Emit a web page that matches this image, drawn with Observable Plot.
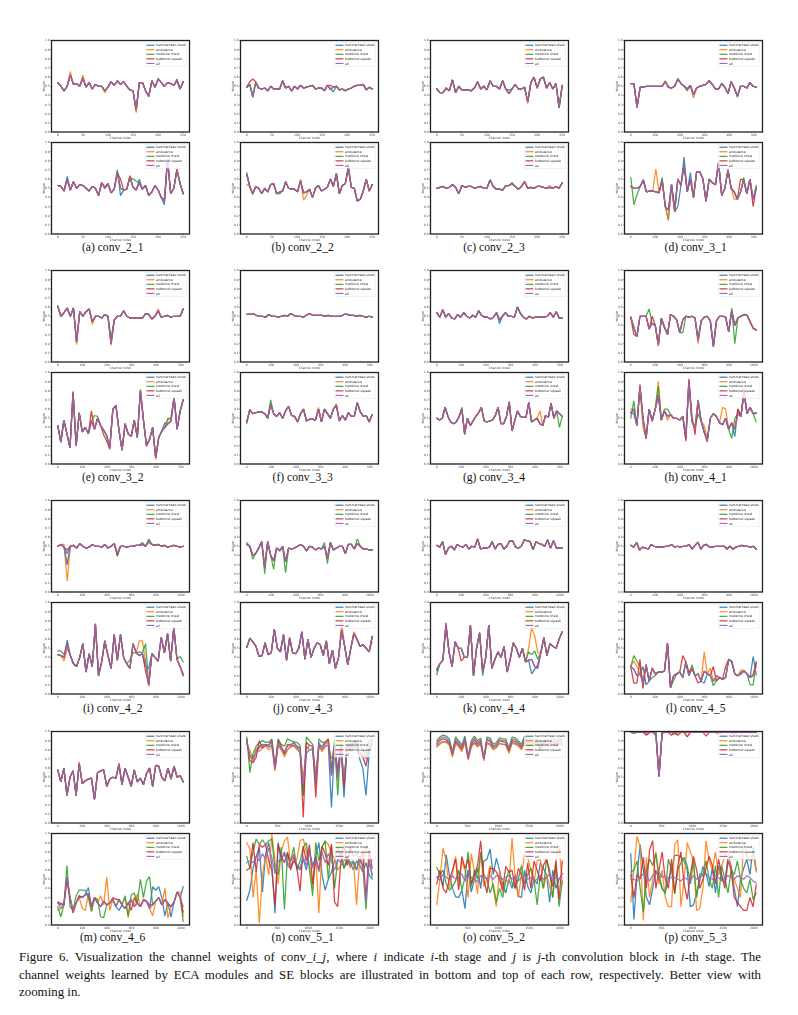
<!DOCTYPE html>
<html><head><meta charset="utf-8">
<script src="https://cdn.jsdelivr.net/npm/d3@7"></script>
<script src="https://cdn.jsdelivr.net/npm/@observablehq/plot@0.6"></script>
<style>
html,body{margin:0;padding:0;background:#fff}
#page{position:relative;width:798px;height:1015px;overflow:hidden;background:#fff}
#page svg{position:absolute;background:transparent;overflow:visible;filter:blur(.35px);text-rendering:geometricPrecision}
.sub{position:absolute;font:11.6px "Liberation Serif",serif;color:#111;transform:translateX(-50%);white-space:nowrap;line-height:13px}
.cap{position:absolute;left:19px;width:742px;font:12.9px "Liberation Serif",serif;color:#111;line-height:14px;white-space:nowrap}
.cap.j{text-align:justify;text-align-last:justify;white-space:normal}
</style></head><body><div id="page"></div>
<script>
const seriesNames=["hammerhead shark","ambulance","medicine chest","butternut squash","all"];
const seriesColors=["#1f77b4","#ff7f0e","#2ca02c","#d62728","#9467bd"];
const yTicks=[0,.1,.2,.3,.4,.5,.6,.7,.8,.9,1];

const a1_all=[54,50,45,50,62,52,53,50,59,49,54,47,52,50,50,45,49,55,51,56,52,55,50,46,45,24,54,54,45,39,56,49,58,54,50,54,53,51,56,47,55];
const a1_dev=[[1,4,66],[1,8,62],[1,15,43],[1,25,21],[0,38,58]];
const a2_all=[53,52,47,60,48,57,50,54,53,50,47,52,50,42,56,50,55,45,49,67,50,48,49,62,51,48,56,49,53,42,46,53,48,40,36,82,44,50,70,55,44];
const a2_dev=[[0,3,63],[0,19,70],[0,20,42],[0,26,60],[0,34,32],[3,38,71],[3,23,63],[3,20,60],[2,24,60],[2,25,58],[2,33,40],[2,34,38],[1,23,64],[1,15,52]];
const b1_all=[49,52,38,54,48,47,48,45,50,47,47,47,56,48,50,45,50,47,51,48,49,50,51,47,48,48,45,51,47,49,50,46,47,45,47,48,50,51,51,52,46,49,47];
const b1_dev=[[3,1,55],[3,2,58],[3,3,55],[1,2,42],[1,27,51],[1,28,46],[0,29,44],[3,28,51],[0,40,46]];
const b2_all=[65,52,44,52,50,44,50,46,54,55,44,46,47,57,50,49,49,46,58,45,46,49,40,50,53,47,49,51,60,52,66,44,53,55,72,51,50,36,38,47,60,47,54];
const b2_dev=[[1,0,54],[1,19,37],[1,18,60],[1,20,42],[0,0,67],[2,2,43],[2,11,44],[0,34,75]];
const c1_all=[47,43,43,48,45,57,43,50,46,46,46,45,48,55,47,50,46,56,50,50,47,56,47,42,47,52,47,47,49,33,54,60,48,58,60,48,54,47,53,27,51];
const c1_dev=[[1,29,31],[2,39,26],[0,23,46]];
const c2_all=[50,51,52,50,51,54,51,44,53,51,52,52,50,51,52,50,50,59,52,49,49,48,53,53,55,52,49,52,57,50,51,50,52,52,51,50,51,50,52,50,56];
const c2_dev=[[2,24,56],[1,28,58],[1,36,53]];
const d1_all=[53,53,27,49,49,50,50,50,50,50,50,55,49,48,50,58,53,50,47,51,41,48,50,51,52,56,52,47,47,53,49,42,55,48,39,50,50,48,54,50,49];
const d1_dev=[[1,20,37],[2,18,45],[1,11,56],[1,34,38]];
const d2_all=[52,50,50,52,59,46,47,47,46,45,59,30,26,54,24,60,53,76,46,60,40,68,68,60,36,60,56,54,78,42,50,70,50,46,38,46,59,44,60,38,50];
const d2_dev=[[0,12,15],[0,17,84],[0,19,67],[0,15,30],[0,40,53],[1,8,71],[1,12,16],[1,33,38],[2,1,32],[2,2,43],[2,0,62],[2,10,62],[2,14,30],[2,36,62],[3,39,30],[3,35,60]];
const e1_all=[61,50,54,59,50,59,22,55,50,55,58,44,50,50,48,52,50,20,46,50,50,56,50,48,48,48,48,48,53,52,47,50,56,49,50,51,49,50,50,50,58];
const e1_dev=[[1,6,19],[1,11,41],[1,17,18],[2,17,26],[1,32,58]];
const e2_all=[42,24,48,33,18,78,20,56,35,40,33,47,38,50,42,37,31,18,60,64,37,15,44,33,30,48,29,80,48,20,27,40,7,29,36,40,44,47,73,38,58,70];
const e2_dev=[[1,5,80],[1,27,82],[1,29,19],[1,32,5],[1,36,48],[1,37,50],[3,11,58],[3,15,32],[3,16,25],[3,17,16],[2,12,53],[2,13,52],[2,36,50],[2,37,50],[0,35,45]];
const f1_all=[52,52,53,51,50,50,49,52,50,50,49,50,51,50,53,51,50,50,49,51,53,51,51,51,51,50,51,50,50,50,50,52,52,51,51,50,51,50,49,50,49];
const f1_dev=[];
const f2_all=[46,59,55,56,57,57,55,50,65,55,52,56,50,58,63,53,52,46,55,60,47,49,49,48,60,46,60,55,50,60,64,47,53,48,56,52,52,67,57,52,53,46,54];
const f2_dev=[[2,8,70],[2,1,60],[2,0,44],[1,24,62],[1,30,66]];
const g1_all=[54,49,57,49,53,48,47,52,49,54,50,48,51,49,56,51,49,49,47,49,54,46,50,54,50,50,49,60,53,49,47,50,48,49,49,49,49,50,54,49,55,48,48];
const g1_dev=[[0,21,42]];
const g2_all=[50,48,50,62,52,46,44,46,52,60,33,50,42,47,52,56,62,47,46,47,48,53,62,44,44,52,68,36,48,58,52,51,51,67,46,48,50,44,42,53,51,66,50,58,55,52];
const g2_dev=[[2,9,62],[3,10,32],[2,44,40],[1,27,36],[1,41,67],[1,37,58]];
const h1_all=[49,38,28,50,50,50,36,42,40,19,48,38,30,52,50,46,32,46,50,49,50,48,24,45,49,50,45,17,45,50,50,49,33,56,40,48,50,52,51,44,37,35];
const h1_dev=[[3,1,30],[1,9,17],[1,22,20],[2,33,59],[2,34,20],[2,17,32],[2,14,50],[2,6,58],[3,7,50]];
const h2_all=[56,60,42,84,50,28,60,47,60,75,48,58,52,54,50,50,48,52,30,90,46,40,70,47,35,26,50,55,52,45,43,50,38,45,38,55,52,78,55,62,55,56];
const h2_dev=[[1,0,60],[1,9,90],[1,4,40],[1,24,42],[1,30,62],[1,31,60],[1,25,28],[1,18,28],[1,12,48],[2,0,50],[2,1,69],[2,18,28],[2,9,85],[2,11,60],[2,12,60],[2,22,55],[2,33,28],[2,41,46],[2,34,50],[3,3,87],[3,19,93],[3,18,25],[3,22,68],[3,25,24],[3,35,60],[3,37,82],[3,20,52],[3,21,32],[0,1,55],[0,34,30],[0,35,60],[0,41,55]];
const i1_all=[50,52,49,30,50,51,48,53,50,48,49,52,50,50,49,52,48,50,53,42,50,50,49,50,50,51,51,52,50,55,52,51,52,50,51,49,50,51,50,49,50];
const i1_dev=[[1,3,12],[1,2,52],[0,3,42],[3,3,46],[3,19,40],[2,27,54],[2,29,58],[2,19,39]];
const i2_all=[43,42,40,55,42,33,30,40,55,24,44,30,76,20,35,58,42,28,65,37,65,40,33,28,55,45,42,44,35,10,44,40,36,62,45,66,36,73,38,30,20];
const i2_dev=[[0,3,59],[0,29,28],[0,28,30],[0,40,22],[2,0,47],[2,1,47],[2,2,43],[2,26,46],[2,27,45],[2,28,55],[2,40,35],[2,23,37],[2,24,45],[2,39,41],[1,27,58],[1,26,58],[1,2,36],[1,29,8],[1,3,50],[3,12,77],[3,28,25]];
const j1_all=[52,50,40,42,48,55,27,55,40,34,48,45,50,33,48,47,48,50,52,50,45,50,49,46,48,47,50,37,54,46,48,50,50,42,52,52,47,53,50,47,47,46,46];
const j1_dev=[[2,2,36],[2,6,20],[2,7,55],[2,9,25],[2,13,21],[2,0,54],[2,27,31],[2,26,54],[2,37,58]];
const j2_all=[51,61,57,52,41,42,56,43,45,71,50,46,65,37,61,45,44,50,68,38,60,40,50,56,54,42,58,33,48,28,40,70,52,32,50,66,60,52,54,50,46,63];
const j2_dev=[[1,31,78],[1,35,68],[1,41,57],[3,14,62],[3,33,32],[2,29,28],[2,27,34]];
const k1_all=[51,49,55,41,48,50,46,52,50,49,52,47,50,49,58,47,48,48,49,55,47,52,53,47,50,56,56,49,48,50,57,56,55,46,55,53,52,50,57,48,56,48,48,48];
const k1_dev=[];
const k2_all=[27,33,37,75,46,30,57,50,50,40,40,75,20,50,67,24,40,75,28,38,46,40,52,24,38,56,50,40,50,35,37,38,30,28,45,62,42,55,52,50,60,68];
const k2_dev=[[1,31,72],[1,32,64],[1,33,45],[1,30,50],[0,31,22],[0,32,27],[0,33,32],[0,0,25],[2,30,46],[2,31,43],[2,32,47],[2,33,38],[2,12,20],[2,0,21],[2,15,20],[3,3,78],[3,8,36]];
const l1_all=[51,49,54,46,49,48,47,52,50,49,49,49,50,50,52,49,50,49,50,50,52,47,51,54,47,51,52,49,49,50,50,50,50,47,50,47,49,50,51,50,50,49,50,47];
const l1_dev=[[1,23,55],[1,3,45],[1,35,46]];
const l2_all=[30,27,20,22,12,32,14,28,22,24,24,25,55,7,20,22,24,18,35,20,28,20,22,14,25,22,20,14,20,18,16,18,38,35,22,20,22,25,22,18,20,30];
const l2_dev=[[2,0,30],[2,1,42],[2,2,36],[2,3,30],[2,7,18],[2,8,20],[2,14,15],[2,20,32],[2,27,9],[2,28,15],[2,33,36],[2,39,10],[2,40,10],[2,41,35],[1,1,36],[1,2,30],[1,24,46],[1,26,28],[1,36,26],[1,37,26],[1,7,29],[1,40,22],[1,41,35],[3,1,12],[3,2,12],[3,3,38],[3,4,6],[3,12,56],[3,17,42],[3,19,24],[3,22,12],[3,27,30],[3,28,14],[3,31,30],[3,41,34],[0,4,30],[0,5,10],[0,24,12],[0,40,41],[0,41,21],[0,36,24]];
const m1_all=[58,45,60,30,50,57,30,65,43,46,48,49,26,55,57,58,40,48,50,49,64,42,60,50,40,58,45,49,42,54,60,40,63,62,50,46,60,48,62,50,52,45];
const m1_dev=[[1,7,67],[1,12,25],[1,20,66]];
const m2_all=[24,18,22,52,30,16,24,30,30,33,34,20,30,24,20,26,22,24,28,20,28,22,18,24,28,20,24,20,28,26,18,22,26,30,22,28,24,20,25,36,30,20];
const m2_dev=[[2,0,20],[2,1,9],[2,3,65],[2,4,20],[2,6,32],[2,7,38],[2,8,38],[2,9,38],[2,10,30],[2,11,15],[2,13,28],[2,14,9],[2,15,8],[2,22,32],[2,23,10],[2,24,33],[2,25,35],[2,27,50],[2,28,30],[2,29,48],[2,30,53],[2,31,22],[2,41,4],[1,0,16],[1,3,46],[1,8,18],[1,9,16],[1,11,15],[1,14,32],[1,15,22],[1,16,52],[1,17,16],[1,22,30],[1,23,8],[1,26,34],[1,28,26],[1,31,10],[1,35,40],[1,36,8],[1,40,36],[1,41,10],[0,1,22],[0,7,32],[0,10,41],[0,20,16],[0,31,42],[0,32,38],[0,33,42],[0,34,30],[0,35,10],[0,37,9],[0,40,30],[0,41,42],[3,0,25],[3,1,24],[3,5,13],[3,7,32],[3,18,30],[3,19,28],[3,24,16],[3,25,30],[3,30,22],[3,41,14]];

const n1_ham=[88,74,72,78,84,86,85,83,85,58,85,80,75,80,84,85,82,76,30,76,80,80,42,85,80,84,85,17,84,58,85,28,84,80,82,84,70,60,30,75,88];
const n1_amb=[85,80,68,82,78,82,84,80,84,57,86,80,72,80,83,84,80,78,48,84,80,82,55,84,78,83,86,70,80,46,88,46,82,78,84,82,72,75,70,82,85];
const n1_med=[94,55,76,84,88,90,88,88,92,62,92,86,84,92,90,89,88,85,30,94,90,86,45,92,88,88,90,60,90,30,86,40,86,86,88,90,85,80,72,90,92];
const n1_red=[92,68,66,72,90,82,86,85,90,60,90,84,76,86,85,88,84,82,6,88,85,84,28,85,84,88,92,52,85,55,86,39,85,84,86,88,78,72,62,80,90];
const n1_all=[90,72,70,76,82,84,85,85,88,60,88,82,78,84,86,87,84,80,42,80,85,84,45,88,82,86,88,52,85,50,86,48,85,82,85,86,75,72,63,80,90];
const n2_ham=[27,38,62,75,85,36,78,90,65,13,90,70,80,65,62,70,65,60,72,60,82,65,75,90,55,38,50,58,70,85,75,62,70,68,60,70,65,58,68,55,50];
const n2_amb=[90,83,30,60,2,55,75,55,99,70,45,80,92,96,65,70,72,92,94,80,65,40,75,13,85,92,88,78,72,60,65,70,75,62,70,22,72,60,88,75,70];
const n2_med=[75,62,80,94,88,93,88,92,94,60,55,85,17,78,70,85,60,70,85,90,60,32,90,70,85,92,50,88,40,72,80,62,75,68,70,60,75,65,17,70,55];
const n2_red=[60,62,90,58,88,85,88,70,60,22,88,75,68,80,60,75,62,37,86,70,88,45,75,60,86,78,65,88,25,20,70,88,65,85,75,78,70,80,30,82,62];
const n2_all=[68,70,68,75,70,78,72,84,74,56,70,72,78,65,70,78,66,62,75,65,80,62,72,58,80,68,78,70,60,72,68,74,70,65,68,60,72,65,26,72,52];
const o1_ham=[84,87,89,89,86,74,88,84,80,89,70,84,88,84,87,70,88,86,81,83,87,86,86,78,88,87,85,81,88,84,86,85,86,82,85,86,84,86,84,87,86];
const o1_amb=[83,86,89,88,85,72,87,83,78,88,69,83,87,83,86,68,87,85,80,82,87,86,85,76,87,86,84,80,88,84,85,84,85,81,84,85,84,85,83,86,85];
const o1_med=[90,94,96,95,92,78,94,90,85,95,72,90,95,90,93,70,94,93,86,88,93,92,92,82,94,93,90,86,95,90,92,91,92,88,90,91,90,92,90,93,92];
const o1_red=[86,90,92,91,88,75,90,86,82,92,71,86,91,86,89,70,91,89,83,85,90,89,88,79,90,89,87,83,91,87,88,87,88,84,87,88,87,88,86,90,88];
const o1_all=[88,92,94,93,90,76,92,88,84,93,72,88,93,88,91,70,92,91,84,86,91,90,90,80,92,91,88,84,93,88,90,89,90,86,88,89,88,90,88,91,90];
const o2_ham=[52,54,42,77,55,40,31,30,38,18,60,36,50,62,40,70,72,83,55,73,60,45,35,50,40,55,32,30,60,42,35,50,45,68,62,55,25,60,40,50,56];
const o2_amb=[22,50,84,70,40,55,75,48,70,60,30,78,58,34,80,42,50,65,40,20,60,35,50,45,95,50,30,55,77,74,60,45,70,72,40,55,42,30,70,88,45];
const o2_med=[63,55,60,45,38,42,48,60,38,52,80,42,60,50,80,55,50,35,45,25,40,30,48,60,46,40,50,65,45,55,62,50,22,55,40,72,60,30,65,20,48];
const o2_red=[45,60,40,35,50,60,72,38,75,62,72,45,55,65,92,50,35,62,62,58,50,38,64,58,60,40,62,55,38,68,40,70,60,48,65,72,55,42,70,28,70];
const o2_all=[52,49,56,52,50,54,50,52,56,48,60,52,50,47,54,52,50,54,50,54,53,50,52,54,50,52,48,52,54,50,52,48,50,54,50,52,56,48,52,50,56];
const p1_all=[99,99,99,99,99,99,99,99,99,51,99,99,99,99,99,99,99,99,99,99,99,99,99,99,99,99,99,99,99,99,99,99,99,99,99,99,99,99,99,99,99];
const p1_dev=[[3,5,96],[3,8,96],[1,5,97],[2,1,98],[3,13,96],[3,18,94],[1,18,95],[3,24,95],[2,14,97],[3,15,96],[1,28,97],[3,10,98],[1,33,97]];
const p2_ham=[78,6,55,88,60,30,22,40,60,50,40,36,50,60,76,76,74,70,60,20,22,35,48,64,56,42,62,35,65,50,46,75,65,40,20,50,62,72,55,85,60];
const p2_amb=[25,60,97,85,5,74,30,50,80,45,60,30,20,20,88,93,20,50,90,80,70,16,18,40,92,70,60,80,55,65,75,82,60,50,40,30,90,75,70,78,58];
const p2_med=[58,60,70,40,14,60,72,65,78,55,40,34,72,60,34,60,68,74,65,45,70,30,56,55,70,50,40,65,30,65,50,35,60,55,70,50,40,35,50,28,35];
const p2_red=[55,30,55,50,74,40,82,92,40,60,80,50,40,72,35,65,80,45,28,55,75,60,40,50,62,75,65,45,72,55,40,70,60,30,25,20,16,16,30,20,44];
const p2_all=[50,50,48,52,56,54,48,54,56,58,52,54,50,52,52,50,48,52,50,48,54,50,52,54,56,52,50,54,52,48,52,54,52,50,54,52,50,54,52,48,46];

const withDev=(all,dev)=>{const s=[0,1,2,3].map(()=>all.slice());dev.forEach(([k,i,v])=>{s[k][i]=v});s.push(all);return s};
const xTicks={250:[0,50,100,150,200,250],510:[0,100,200,300,400,500],1020:[0,200,400,600,800,1000],2040:[0,500,1000,1500,2000]};
const panels=[
["(a) conv_2_1",250,withDev(a1_all,a1_dev),withDev(a2_all,a2_dev)],
["(b) conv_2_2",250,withDev(b1_all,b1_dev),withDev(b2_all,b2_dev)],
["(c) conv_2_3",250,withDev(c1_all,c1_dev),withDev(c2_all,c2_dev)],
["(d) conv_3_1",510,withDev(d1_all,d1_dev),withDev(d2_all,d2_dev)],
["(e) conv_3_2",510,withDev(e1_all,e1_dev),withDev(e2_all,e2_dev)],
["(f) conv_3_3",510,withDev(f1_all,f1_dev),withDev(f2_all,f2_dev)],
["(g) conv_3_4",510,withDev(g1_all,g1_dev),withDev(g2_all,g2_dev)],
["(h) conv_4_1",1020,withDev(h1_all,h1_dev),withDev(h2_all,h2_dev)],
["(i) conv_4_2",1020,withDev(i1_all,i1_dev),withDev(i2_all,i2_dev)],
["(j) conv_4_3",1020,withDev(j1_all,j1_dev),withDev(j2_all,j2_dev)],
["(k) conv_4_4",1020,withDev(k1_all,k1_dev),withDev(k2_all,k2_dev)],
["(l) conv_4_5",1020,withDev(l1_all,l1_dev),withDev(l2_all,l2_dev)],
["(m) conv_4_6",1020,withDev(m1_all,m1_dev),withDev(m2_all,m2_dev)],
["(n) conv_5_1",2040,[n1_ham,n1_amb,n1_med,n1_red,n1_all],[n2_ham,n2_amb,n2_med,n2_red,n2_all]],
["(o) conv_5_2",2040,[o1_ham,o1_amb,o1_med,o1_red,o1_all],[o2_ham,o2_amb,o2_med,o2_red,o2_all]],
["(p) conv_5_3",2040,withDev(p1_all,p1_dev),[p2_ham,p2_amb,p2_med,p2_red,p2_all]]
];

const colLeft=[50.7,240,430,623.5], colCenter=[112.7,302.7,494,695.7];
const rowTops=[[40,142.3],[270,372.3],[500,602.3],[730.7,832.7]], capY=[240.5,470.5,701.5,931];
const frameW=138, frameH=91.5, ml=14, mr=2, mt=2, mb=10;
const page=document.getElementById("page");

function chart(series,xMax,left,top){
  const rows=series.flatMap((v,k)=>v.map((y,i)=>({x:i*xMax/(v.length-1),y:y/100,s:seriesNames[k]})));
  const svg=Plot.plot({
    width:frameW+ml+mr,height:frameH+mt+mb,marginLeft:ml,marginRight:mr,marginTop:mt,marginBottom:mb,
    style:{background:"transparent",fontFamily:"DejaVu Sans"},
    x:{domain:[-xMax*.05,xMax*1.05]},y:{domain:[0,1]},
    color:{domain:seriesNames,range:seriesColors},
    marks:[
      Plot.line(rows,{x:"x",y:"y",z:"s",stroke:"s",strokeWidth:1.25,strokeOpacity:.88,strokeLinejoin:"miter"}),
      Plot.frame({stroke:"#222",strokeWidth:1.3}),
      Plot.axisX({ticks:xTicks[xMax],tickSize:1,tickPadding:.8,fontSize:3,tickFormat:d=>String(d),label:"Channel Index",labelAnchor:"center",labelOffset:6.8,labelArrow:"none",stroke:"#333",strokeWidth:.4,color:"#444"}),
      Plot.axisY({ticks:yTicks,tickSize:1,tickPadding:.8,fontSize:3,tickFormat:d=>d.toFixed(1),label:"Weight",labelAnchor:"center",labelOffset:9,labelArrow:"none",stroke:"#333",strokeWidth:.4,color:"#444"})
    ]
  });
  svg.style.left=(left-ml)+"px";svg.style.top=(top-mt)+"px";
  page.appendChild(svg);
  const leg=d3.create("svg").attr("width",42).attr("height",24.5)
    .style("left",(left+frameW-44)+"px").style("top",(top+2)+"px")
    .style("font-family","DejaVu Sans").style("font-size","3.05px");
  leg.append("rect").attr("x",.15).attr("y",.15).attr("width",41.7).attr("height",24.2).attr("rx",.6)
    .attr("fill","#fff").attr("fill-opacity",.8).attr("stroke","#ccc").attr("stroke-width",.3);
  seriesNames.forEach((n,k)=>{
    const y=3.2+k*4.55;
    leg.append("line").attr("x1",1.5).attr("x2",9.5).attr("y1",y).attr("y2",y).attr("stroke",seriesColors[k]).attr("stroke-width",1.1);
    leg.append("text").attr("x",11).attr("y",y+1.1).attr("fill","#222").text(n);
  });
  page.appendChild(leg.node());
}
panels.forEach((p,idx)=>{
  const r=Math.floor(idx/4),c=idx%4;
  chart(p[2],p[1],colLeft[c],rowTops[r][0]);
  chart(p[3],p[1],colLeft[c],rowTops[r][1]);
  const s=document.createElement("div");s.className="sub";s.textContent=p[0];
  s.style.left=colCenter[c]+"px";s.style.top=capY[r]+"px";page.appendChild(s);
});
const lines=[
 'Figure 6. Visualization the channel weights of conv_<i>i</i>_<i>j</i>, where <i>i</i> indicate <i>i</i>-th stage and <i>j</i> is <i>j</i>-th convolution block in <i>i</i>-th stage. The',
 'channel weights learned by ECA modules and SE blocks are illustrated in bottom and top of each row, respectively. Better view with',
 'zooming in.'];
lines.forEach((h,k)=>{const d=document.createElement("div");d.className="cap"+(k<2?" j":"");d.innerHTML=h;d.style.top=(950+k*17.5)+"px";page.appendChild(d)});
</script></body></html>
